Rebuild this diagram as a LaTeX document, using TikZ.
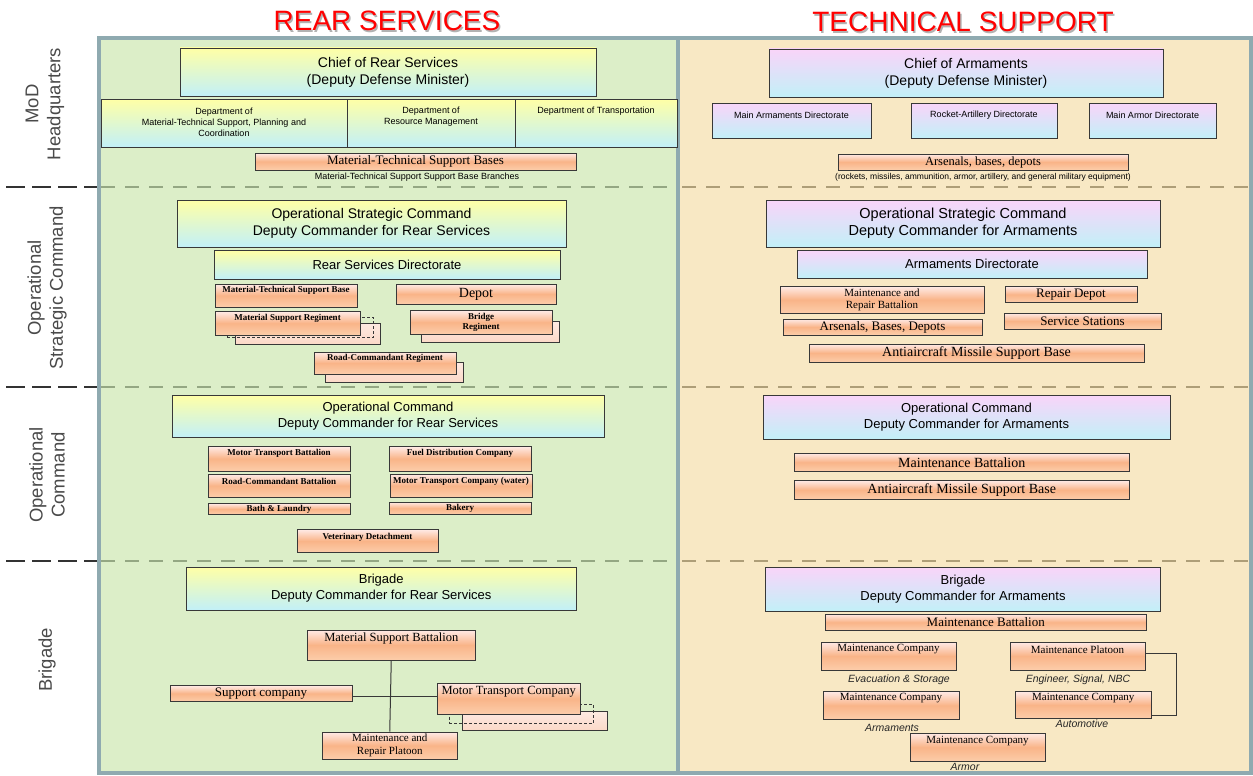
\documentclass[tikz,border=0pt]{standalone}
\usepackage{fontspec}
\setmainfont{Liberation Serif}
\setsansfont{Liberation Sans}
\usetikzlibrary{calc}
\definecolor{grn}{HTML}{DCEEC8}
\definecolor{tanp}{HTML}{F8E8C4}
\definecolor{frm}{HTML}{8FAAB0}
\definecolor{boxline}{HTML}{383838}
\definecolor{yelT}{HTML}{FFFFA6}
\definecolor{cyanB}{HTML}{C2F0F8}
\definecolor{pinkT}{HTML}{F9D4F9}
\definecolor{orT}{HTML}{FFEAE6}
\definecolor{orM}{HTML}{F9B488}
\definecolor{orB}{HTML}{FCCDAA}
\definecolor{bkT}{HTML}{FDEAE2}
\definecolor{bkB}{HTML}{FCD9C8}
\definecolor{gdash}{HTML}{94A783}
\definecolor{tdash}{HTML}{AE9E78}
\definecolor{rowgray}{HTML}{4A4A4A}
\definecolor{headred}{HTML}{FF0000}
\newcommand\fs[2]{\fontsize{#1}{#2}\selectfont}
\newcommand\mybox[7]{\node[#2, minimum width={(#5-#3)*1pt}, minimum height={(#6-#4)*1pt}] (#1) at ({(#3+#5)/2},{(#4+#6)/2}) {#7};}
\newcommand\myboxt[9]{\node[#2, minimum width={(#5-#3)*1pt}, minimum height={(#6-#4)*1pt}] (#1) at ({(#3+#5)/2},{(#4+#6)/2}) {};
\node[tx,#7] (#1-t) at ({(#3+#5)/2},#8) {#9};}
\tikzset{
  bx/.style={draw=boxline, line width=0.9pt, inner sep=0pt, align=center},
  yc/.style={bx, top color=yelT, bottom color=cyanB},
  pc/.style={bx, top color=pinkT, bottom color=cyanB},
  og/.style={bx, top color=orT, bottom color=orB, middle color=orM},
  bk/.style={bx, top color=bkT, bottom color=bkB},
  dsh/.style={draw=boxline, line width=0.8pt, dash pattern=on 3pt off 2pt, inner sep=0pt},
  tx/.style={inner sep=0pt, align=center, text=black},
  s14/.style={font=\sffamily\fs{14}{17}},
  s145/.style={font=\sffamily\fs{14.5}{17}},
  s13/.style={font=\sffamily\fs{13}{16}},
  s9/.style={font=\sffamily\fs{9}{11}},
  s85/.style={font=\sffamily\fs{8.5}{10}},
  r14/.style={font=\rmfamily\fs{14}{16}},
  r13/.style={font=\rmfamily\fs{13}{15}},
  r125/.style={font=\rmfamily\fs{12.5}{14}},
  r11/.style={font=\rmfamily\fs{11}{12.7}},
  rb9/.style={font=\rmfamily\bfseries\fs{9}{10.6}},
  itl/.style={tx, font=\sffamily\itshape\fs{10.5}{12}, text=black!85},
  hd/.style={font=\sffamily\fs{28}{30}, text=headred, inner sep=0pt},
  hds/.style={font=\sffamily\fs{28}{30}, text=black!30, inner sep=0pt},
  rowlab/.style={font=\sffamily\fs{18.5}{22}, text=rowgray, align=center, inner sep=0pt, rotate=90},
  conn/.style={draw=boxline, line width=1pt},
  blkdash/.style={draw=black!80, line width=2.2pt, dash pattern=on 19pt off 7pt},
  gd/.style={draw=gdash, line width=2.2pt, dash pattern=on 14pt off 10pt},
  td/.style={draw=tdash, line width=2.2pt, dash pattern=on 14pt off 10pt},
}
\begin{document}
\begin{tikzpicture}[x=1pt,y=-1pt]
\useasboundingbox (0,0) rectangle (1253,776);
\fill[white] (0,0) rectangle (1253,776);
% panels
\fill[grn] (99,38) rectangle (678,773);
\fill[tanp] (678,38) rectangle (1251,773);
\foreach \yy in {187,387,561}{
  \draw[blkdash] (6,\yy) -- (98,\yy);
  \draw[gd] (101,\yy) -- (677,\yy);
  \draw[td] (682,\yy) -- (1250,\yy);
}
\draw[frm, line width=3.2pt] (99,38) rectangle (1251,773);
\draw[frm, line width=3.2pt] (678,38) -- (678,773);
% headings
\node[hds] (hrs-s) at (388.5,22.5) {REAR SERVICES};
\node[hd] (hrs) at (387,21) {REAR SERVICES};
\node[hds] (hts-s) at (964.5,23.5) {TECHNICAL SUPPORT};
\node[hd] (hts) at (963,22) {TECHNICAL SUPPORT};
% row labels
\node[rowlab] (l1) at (45,104) {MoD\\Headquarters};
\node[rowlab] (l2) at (47,288) {Operational\\Strategic Command};
\node[rowlab] (l3) at (47,475) {Operational\\Command};
\node[rowlab] (l4) at (47,660) {Brigade};

% ===== MoD left
\mybox{crs}{yc,s14}{180}{48}{596}{96}{Chief of Rear Services\\(Deputy Defense Minister)}
\myboxt{d1}{yc}{101}{99}{347}{147}{s9}{122.5}{Department of\\Material-Technical Support, Planning and\\Coordination}
\myboxt{d2}{yc}{347}{99}{515}{147}{s9}{117}{Department of\\Resource Management}
\myboxt{d3}{yc}{515}{99}{677}{147}{s9}{111.5}{Department of Transportation}
\mybox{mtsb}{og,r13}{255}{153}{576}{170}{Material-Technical Support Bases}
\node[tx,s9] (mtsbb) at (417,177) {Material-Technical Support Support Base Branches};

% ===== MoD right
\mybox{ca}{pc,s14}{769}{49}{1163}{97}{Chief of Armaments\\(Deputy Defense Minister)}
\myboxt{mad}{pc}{712}{103}{871}{138.5}{s9}{115}{Main Armaments Directorate}
\myboxt{rad}{pc}{911}{103}{1057}{138.5}{s9}{115}{Rocket-Artillery Directorate}
\myboxt{mard}{pc}{1089}{103}{1216}{138.5}{s9}{115}{Main Armor Directorate}
\mybox{abd1}{og,r125}{838}{154}{1128}{170}{Arsenals, bases, depots}
\node[tx,s85] (abdt) at (983,177) {(rockets, missiles, ammunition, armor, artillery, and general military equipment)};

% ===== OSC left
\mybox{osc}{yc,s14}{177}{200}{566}{247}{Operational Strategic Command\\Deputy Commander for Rear Services}
\mybox{rsd}{yc,s13}{214}{250.5}{560}{279}{Rear Services Directorate}
\myboxt{mtsb2}{og}{215}{284}{357}{307}{rb9}{290.5}{Material-Technical Support Base}
\mybox{dep}{og,r14}{396}{284}{556}{304}{Depot}
\mybox{msr3}{bk}{235}{323}{380}{344}{}
\mybox{msr2}{dsh}{227}{317}{373}{337.5}{}
\myboxt{msr}{og}{215}{311.5}{360}{335}{rb9}{318}{Material Support Regiment}
\mybox{brg2}{bk}{421}{321.5}{559.5}{342}{}
\mybox{brg}{og,rb9}{410}{310.5}{552}{334}{Bridge\\Regiment}
\mybox{rcr2}{bk}{325}{362}{463}{382}{}
\myboxt{rcr}{og}{314}{352}{456}{374}{rb9}{358}{Road-Commandant Regiment}

% ===== OSC right
\mybox{oscr}{pc,s145}{766}{200}{1160}{247}{Operational Strategic Command\\Deputy Commander for Armaments}
\mybox{ard}{pc,s13}{797}{250.5}{1147}{278}{Armaments Directorate}
\mybox{mrb}{og,r11}{780}{286.5}{984}{313}{Maintenance and\\Repair Battalion}
\mybox{abd2}{og,r13}{783}{319}{982}{335}{Arsenals, Bases, Depots}
\mybox{rd}{og,r13}{1005}{286.5}{1137}{302.5}{Repair Depot}
\mybox{ss}{og,r13}{1004}{313}{1161}{329}{Service Stations}
\mybox{aams}{og,r14}{809}{344}{1144}{362}{Antiaircraft Missile Support Base}

% ===== OC left
\mybox{oc}{yc,s13}{172}{395}{604}{437.5}{Operational Command\\Deputy Commander for Rear Services}
\myboxt{mtb}{og}{208}{446.5}{350}{471}{rb9}{453.5}{Motor Transport Battalion}
\myboxt{fdc}{og}{389}{446.5}{531}{471}{rb9}{453.5}{Fuel Distribution Company}
\myboxt{rcb}{og}{208}{474}{350}{497.5}{rb9}{481}{Road-Commandant Battalion}
\myboxt{mtcw}{og}{390}{474}{532}{497.5}{rb9}{481}{Motor Transport Company (water)}
\mybox{bl}{og,rb9}{208}{503.5}{350}{514.5}{Bath \& Laundry}
\mybox{bak}{og,rb9}{389}{502}{531}{514.5}{Bakery}
\myboxt{vd}{og}{297}{529.5}{438}{552.5}{rb9}{537}{Veterinary Detachment}

% ===== OC right
\mybox{ocr}{pc,s13}{763}{395}{1170}{439}{Operational Command\\Deputy Commander for Armaments}
\mybox{mb1}{og,r14}{794.5}{453}{1129}{471.5}{Maintenance Battalion}
\mybox{aams2}{og,r14}{794.5}{480.5}{1129}{499.5}{Antiaircraft Missile Support Base}

% ===== Brigade left
\mybox{bri}{yc,s13}{186.5}{567}{576}{610}{Brigade\\Deputy Commander for Rear Services}
\myboxt{msb}{og}{307.5}{630}{475}{660}{r125}{638.5}{Material Support Battalion}
\mybox{sc}{og,r13}{170}{685.5}{352}{701.5}{Support company}
\mybox{mtc3}{bk}{462}{711.5}{607}{730}{}
\mybox{mtc2}{dsh}{449}{704}{593}{723.5}{}
\myboxt{mtc}{og}{437}{683}{580.5}{714}{r125}{691.5}{Motor Transport Company}
\mybox{mrp}{og,r11}{322}{732}{457.5}{759}{Maintenance and\\Repair Platoon}
\draw[conn] (msb.south) -- (mrp.north);
\coordinate (scx) at ($(sc.east)+(0,3)$);
\draw[conn] (scx) -- (scx -| mtc.west);

% ===== Brigade right
\mybox{brr}{pc,s13}{765.5}{567}{1160.5}{611}{Brigade\\Deputy Commander for Armaments}
\mybox{mb2}{og,r13}{825.5}{614}{1146}{630.5}{Maintenance Battalion}
\myboxt{mc1}{og}{821}{642}{956}{670}{r11}{649.5}{Maintenance Company}
\myboxt{mp}{og}{1010}{642}{1145}{670}{r11}{649.5}{Maintenance Platoon}
\myboxt{mc2}{og}{823}{691.5}{959}{719.5}{r11}{698}{Maintenance Company}
\myboxt{mc3}{og}{1015.5}{691.5}{1151}{718.5}{r11}{698}{Maintenance Company}
\myboxt{mc4}{og}{910}{733}{1045}{761.5}{r11}{741}{Maintenance Company}
\node[itl] (lev) at (899,680) {Evacuation \& Storage};
\node[itl] (les) at (1078,680) {Engineer, Signal, NBC};
\node[itl] (lar) at (892,728) {Armaments};
\node[itl] (lau) at (1082,724) {Automotive};
\node[itl] (lam) at (965,767) {Armor};
\draw[conn] ($(mp.east)+(0,-3)$) -- ($(mp.east)+(31,-3)$) |- ($(mc3.east)+(0,10)$);
\end{tikzpicture}
\end{document}
